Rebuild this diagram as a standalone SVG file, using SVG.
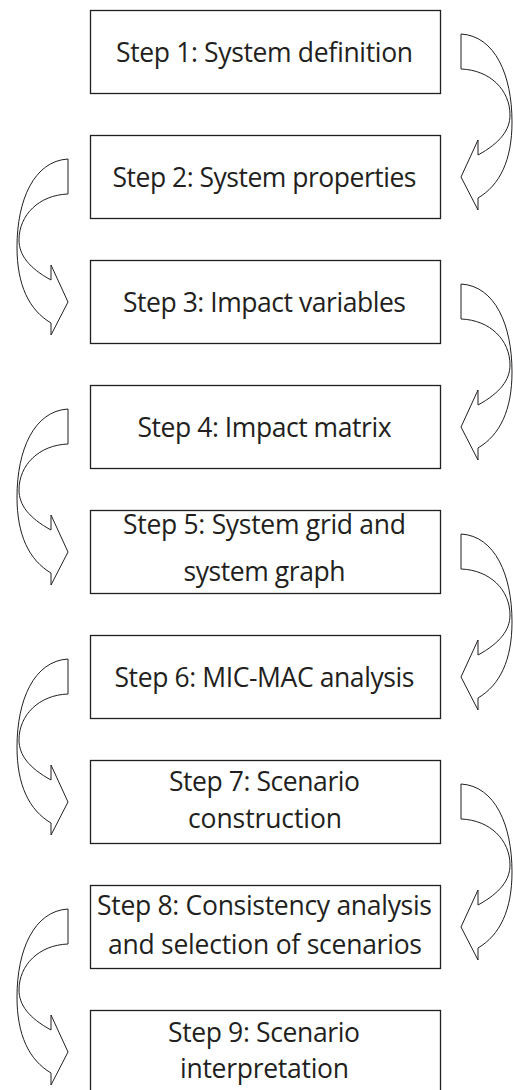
<svg xmlns="http://www.w3.org/2000/svg" xmlns:xlink="http://www.w3.org/1999/xlink" width="513" height="1090" viewBox="0 0 513 1090">
<style>
.box{fill:#fff;stroke:#231f20;stroke-width:1.3}
.t{font-family:"Open Sans","Liberation Sans",Arial,sans-serif;font-size:26.5px;fill:#231f20;text-anchor:middle}
.arr{fill:#fff;stroke:#231f20;stroke-width:1;stroke-linejoin:miter}
</style>
<defs>
<path id="ra" class="arr" d="M461,24 C495,26 512,65 512,112 C512,150 500,175 478,188 L478,200 L461,167 L478,130 L478,145 C500,133 510,120 510,105 C510,80 490,60 461,59 Z"/>
</defs>
<rect width="513" height="1090" fill="#fff"/>
<g id="connectors">
<use xlink:href="#ra" transform="translate(0,10)"/>
<use xlink:href="#ra" transform="translate(529,135) scale(-1,1)"/>
<use xlink:href="#ra" transform="translate(0,260)"/>
<use xlink:href="#ra" transform="translate(529,385) scale(-1,1)"/>
<use xlink:href="#ra" transform="translate(0,510)"/>
<use xlink:href="#ra" transform="translate(529,635) scale(-1,1)"/>
<use xlink:href="#ra" transform="translate(0,760)"/>
<use xlink:href="#ra" transform="translate(529,885) scale(-1,1)"/>
</g>
<g id="step1"><rect class="box" x="90.5" y="10.5" width="350" height="83"/><text class="t" x="264.5" y="61.5" textLength="297">Step 1: System definition</text></g>
<g id="step2"><rect class="box" x="90.5" y="135.5" width="350" height="83"/><text class="t" x="264.5" y="186.5" textLength="304">Step 2: System properties</text></g>
<g id="step3"><rect class="box" x="90.5" y="260.5" width="350" height="83"/><text class="t" x="264.5" y="311.5" textLength="283">Step 3: Impact variables</text></g>
<g id="step4"><rect class="box" x="90.5" y="385.5" width="350" height="83"/><text class="t" x="264.5" y="436.5" textLength="254">Step 4: Impact matrix</text></g>
<g id="step5"><rect class="box" x="90.5" y="510.5" width="350" height="83"/><text class="t" x="264.5" y="534" textLength="283">Step 5: System grid and</text><text class="t" x="264.5" y="581" textLength="162">system graph</text></g>
<g id="step6"><rect class="box" x="90.5" y="635.5" width="350" height="83"/><text class="t" x="264.5" y="686.5" textLength="300">Step 6: MIC-MAC analysis</text></g>
<g id="step7"><rect class="box" x="90.5" y="760.5" width="350" height="83"/><text class="t" x="264.5" y="791" textLength="191">Step 7: Scenario</text><text class="t" x="265" y="828" textLength="154">construction</text></g>
<g id="step8"><rect class="box" x="90.5" y="885.5" width="350" height="83"/><text class="t" x="264.5" y="915" textLength="335">Step 8: Consistency analysis</text><text class="t" x="265" y="954" textLength="314">and selection of scenarios</text></g>
<g id="step9"><rect class="box" x="90.5" y="1010.5" width="350" height="83"/><text class="t" x="264" y="1041.5" textLength="192">Step 9: Scenario</text><text class="t" x="264.5" y="1078" textLength="169">interpretation</text></g>
</svg>
